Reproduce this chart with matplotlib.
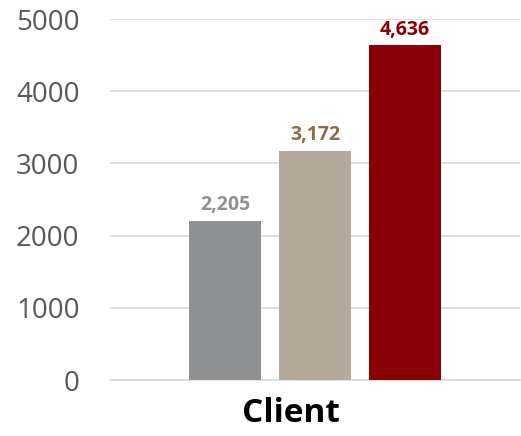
import matplotlib
matplotlib.use("Agg")
import matplotlib.pyplot as plt

plt.rcParams['font.family'] = ['Open Sans', 'DejaVu Sans']

category = 'Client'
values = [2205, 3172, 4636]
bar_colors = ['#8E9091', '#B5A999', '#8B0006']
label_colors = ['#8E9091', '#8B6E46', '#8B0006']
yticks = [0, 1000, 2000, 3000, 4000, 5000]

fig = plt.figure(figsize=(5.21, 4.36), dpi=100)
ax = fig.add_axes([110/521, 1 - 380/436, (520 - 110)/521, 361/436])

xs = list(range(len(values)))
ax.bar(xs, values, width=0.8, color=bar_colors, zorder=3)
for x, v, c in zip(xs, values, label_colors):
    ax.text(x, v + 80, f'{v:,}', ha='center', va='bottom', color=c,
            fontsize=14, fontweight='bold')

ax.set_xlim(-1.278, 3.278)
ax.set_ylim(0, 5000)
ax.set_yticks(yticks)
ax.set_yticklabels([str(t) for t in yticks], fontsize=20, color='#595959')
# category label sits a little left of the middle bar in the original
ax.set_xticks([0.73])
ax.set_xticklabels([category], fontsize=24, fontweight='bold', color='black')
ax.tick_params(axis='both', length=0)
ax.tick_params(axis='y', pad=22)
ax.tick_params(axis='x', pad=12)
ax.grid(axis='y', color='#D9D9D9', linewidth=1.2, zorder=0)
for s in ['top', 'right', 'left']:
    ax.spines[s].set_visible(False)
ax.spines['bottom'].set_color('#D9D9D9')
ax.spines['bottom'].set_linewidth(1.2)

fig.savefig('out.png', dpi=100)
